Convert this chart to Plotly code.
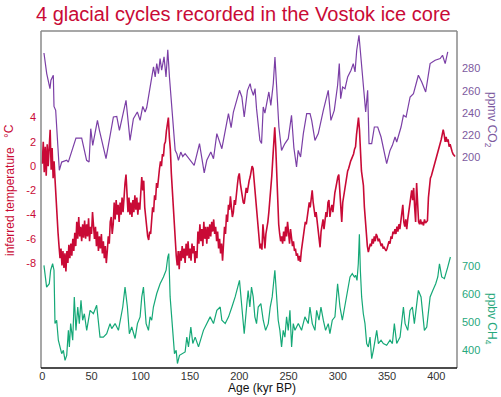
import plotly.graph_objects as go

# ---------------- data ----------------
temp_age = [
    0, 1, 2, 3, 4, 5, 6, 7, 8, 9, 10, 11, 12, 13, 14, 15, 16, 17, 18, 19,
    20, 21, 22, 23, 24, 25, 26, 27, 28, 29, 30, 31, 32, 33, 34, 35, 36, 37, 38, 39,
    40, 41, 42, 43, 44, 45, 46, 47, 48, 49, 50, 51, 52, 53, 54, 55, 56, 57, 58, 59,
    60, 61, 62, 63, 64, 65, 66, 67, 68, 69, 70, 71, 72, 73, 74, 75, 76, 77, 78, 79,
    80, 81, 82, 83, 84, 85, 86, 87, 88, 89, 90, 91, 92, 93, 94, 95, 96, 97, 98, 99,
    100, 101, 102, 103, 104, 105, 106, 107, 108, 109, 110, 111, 112, 113, 114, 115, 116, 117, 118, 119,
    120, 121, 122, 123, 124, 125, 126, 127, 128, 129, 130, 131, 132, 133, 134, 135, 136, 137, 138, 139,
    140, 141, 142, 143, 144, 145, 146, 147, 148, 149, 150, 151, 152, 153, 154, 155, 156, 157, 158, 159,
    160, 161, 162, 163, 164, 165, 166, 167, 168, 169, 170, 171, 172, 173, 174, 175, 176, 177, 178, 179,
    180, 181, 182, 183, 184, 185, 186, 187, 188, 189, 190, 191, 192, 193, 194, 195, 196, 197, 198, 199,
    200, 201, 202, 203, 204, 205, 206, 207, 208, 209, 210, 211, 212, 213, 214, 215, 216, 217, 218, 219,
    220, 221, 222, 223, 224, 225, 226, 227, 228, 229, 230, 231, 232, 233, 234, 235, 236, 237, 238, 239,
    240, 241, 242, 243, 244, 245, 246, 247, 248, 249, 250, 251, 252, 253, 254, 255, 256, 257, 258, 259,
    260, 261, 262, 263, 264, 265, 266, 267, 268, 269, 270, 271, 272, 273, 274, 275, 276, 277, 278, 279,
    280, 281, 282, 283, 284, 285, 286, 287, 288, 289, 290, 291, 292, 293, 294, 295, 296, 297, 298, 299,
    300, 301, 302, 303, 304, 305, 306, 307, 308, 309, 310, 311, 312, 313, 314, 315, 316, 317, 318, 319,
    320, 321, 322, 323, 324, 325, 326, 327, 328, 329, 330, 331, 332, 333, 334, 335, 336, 337, 338, 339,
    340, 341, 342, 343, 344, 345, 346, 347, 348, 349, 350, 351, 352, 353, 354, 355, 356, 357, 358, 359,
    360, 361, 362, 363, 364, 365, 366, 367, 368, 369, 370, 371, 372, 373, 374, 375, 376, 377, 378, 379,
    380, 381, 382, 383, 384, 385, 386, 387, 388, 389, 390, 391, 392, 393, 394, 395, 396, 397, 398, 399,
    400, 401, 402, 403, 404, 405, 406, 407, 408, 409, 410, 411, 412, 413, 414, 415, 416, 417, 418, 419,
]
temp_c = [
    0.2, 2.0, -0.5, 1.6, -0.8, 1.8, 0.0, 1.2, 3.0, -0.3,
    1.5, -1.0, 0.4, -1.2, -3.0, -4.5, -5.5, -6.6, -7.6, -6.8,
    -8.2, -7.0, -8.4, -7.2, -8.7, -7.0, -8.0, -6.5, -7.6, -6.4,
    -7.4, -6.0, -7.0, -5.5, -6.6, -4.6, -6.0, -4.2, -5.8, -5.0,
    -6.2, -4.8, -5.9, -4.5, -6.0, -4.8, -5.8, -4.3, -6.2, -5.0,
    -5.6, -3.8, -5.2, -6.0, -5.0, -6.6, -5.4, -7.0, -5.8, -6.8,
    -5.6, -7.2, -6.2, -7.6, -6.6, -8.0, -7.0, -5.8, -6.4, -4.6,
    -4.2, -5.6, -4.8, -3.0, -4.4, -2.8, -4.0, -3.2, -4.6, -3.0,
    -4.0, -2.6, -3.8, -2.2, -1.4, -0.7, -2.4, -3.8, -2.6, -4.0,
    -3.0, -4.2, -2.8, -3.8, -2.4, -3.6, -2.6, -4.0, -3.0, -3.6,
    -2.2, -0.9, -2.0, -1.2, -3.4, -4.4, -5.2, -5.8, -6.1, -5.4,
    -5.6, -4.6, -3.4, -3.8, -2.4, -2.8, -1.4, -1.8, -0.6, -0.2,
    0.4, 0.0, 1.0, 0.8, 1.8, 2.0, 2.9, 3.6, 4.0, 2.4,
    1.4, -0.6, -2.0, -3.6, -5.2, -6.6, -7.4, -8.2, -7.0, -8.5,
    -7.0, -7.8, -6.6, -7.6, -6.8, -8.0, -6.4, -7.4, -6.2, -7.6,
    -6.8, -7.8, -6.4, -7.2, -6.6, -8.0, -7.0, -7.6, -5.4, -6.4,
    -4.8, -6.2, -5.2, -6.6, -4.6, -6.0, -5.0, -6.4, -5.0, -6.0,
    -4.8, -5.8, -4.6, -5.4, -4.4, -5.6, -5.0, -6.2, -5.4, -6.8,
    -6.0, -7.2, -6.4, -7.8, -6.6, -5.0, -5.6, -4.0, -4.6, -3.2,
    -3.6, -2.5, -3.4, -4.2, -3.8, -2.8, -3.2, -2.0, -1.6, -0.9,
    -0.6, -1.4, -2.0, -2.6, -3.0, -3.1, -2.4, -1.8, -2.2, -1.4,
    -1.2, -0.9, -0.4, 0.0, -0.2, -1.2, -1.8, -3.0, -4.2, -5.2,
    -6.2, -6.8, -6.4, -6.9, -4.8, -5.6, -6.8, -5.6, -5.2, -4.6,
    -3.8, -2.8, -2.2, -0.8, 0.6, 2.2, 3.2, 1.6, -0.8, -3.0,
    -4.8, -5.6, -6.2, -5.8, -6.4, -5.4, -6.2, -5.0, -5.8, -4.6,
    -5.4, -6.4, -5.2, -6.0, -6.6, -6.2, -7.0, -6.8, -7.4, -7.2,
    -7.8, -7.4, -7.9, -7.0, -6.4, -5.8, -5.2, -4.6, -4.8, -4.0,
    -3.6, -3.0, -3.4, -2.6, -2.0, -3.0, -3.6, -4.2, -3.8, -4.6,
    -5.2, -6.0, -6.7, -5.4, -5.0, -4.4, -5.2, -4.6, -3.8, -4.2,
    -3.0, -2.8, -4.2, -3.6, -3.2, -3.8, -2.8, -2.2, -1.8, -1.2,
    -0.9, -0.7, -2.4, -3.2, -4.6, -3.0, -2.4, -2.0, -1.4, -1.0,
    -0.4, -0.2, 0.2, 0.4, 0.6, 0.8, 1.0, 1.4, 1.6, 2.6,
    3.6, 4.0, 3.0, 1.2, -0.4, -1.0, -1.6, -3.4, -4.6, -5.6,
    -6.6, -7.1, -6.8, -6.4, -6.6, -6.0, -6.4, -5.8, -6.2, -5.6,
    -5.8, -6.2, -6.0, -6.4, -6.6, -6.4, -6.8, -6.7, -6.9, -7.0,
    -6.8, -6.5, -6.2, -6.4, -5.8, -6.0, -5.4, -5.6, -5.2, -5.6,
    -5.0, -5.4, -4.8, -5.2, -4.4, -3.8, -3.2, -4.6, -5.0, -4.4,
    -5.2, -4.4, -3.8, -3.2, -2.6, -2.0, -2.8, -1.8, -3.4, -4.6,
    -1.4, -3.2, -4.6, -4.8, -4.4, -4.8, -4.6, -4.9, -4.4, -4.7,
    -4.6, -4.5, -2.6, -1.4, -1.0, -0.8, -0.5, -0.4, 0.0, 0.2,
    0.6, 0.8, 1.2, 1.6, 1.8, 2.2, 2.6, 3.0, 2.6, 2.0,
    2.4, 2.0, 2.2, 1.6, 1.8, 1.4, 1.2, 1.0, 0.9, 0.8,
]

co2_age = [
    1.7, 4.5, 7.8, 8.8, 11.2, 11.9, 13.6, 17.3, 19.7, 24.8, 26.4, 34.2, 40.0, 45.0, 47.5,
    49.2, 51.2, 56.0, 58.0, 64.7, 72.2, 75.6, 78.3, 80.6, 85.0, 89.1, 92.5, 96.5, 99.3,
    102.0, 104.4, 106.0, 111.2, 112.9, 114.6, 116.2, 117.9, 119.6, 121.2, 123.6, 125.6,
    127.4, 129.1, 131.5, 134.9, 136.6, 138.2, 140.6, 142.6, 145.0, 154.2, 159.6, 164.4,
    167.0, 171.1, 173.8, 177.2, 182.3, 185.7, 189.0, 191.7, 194.0, 200.2, 202.6, 205.0,
    208.3, 211.0, 212.0, 214.3, 216.0, 217.5, 220.9, 222.6, 224.3, 226.0, 228.7, 230.0,
    232.0, 234.5, 236.2, 237.9, 240.2, 242.9, 246.3, 249.7, 253.0, 255.4, 258.1, 259.8,
    262.2, 265.0, 268.4, 271.8, 273.5, 276.8, 280.2, 285.3, 290.3, 293.0, 296.4, 299.8,
    301.5, 302.9, 304.9, 307.3, 310.0, 313.4, 315.7, 317.5, 319.2, 321.5, 323.6, 326.0,
    328.3, 330.3, 331.7, 334.4, 337.1, 340.5, 343.9, 349.6, 353.0, 355.4, 358.1, 359.8,
    364.2, 366.6, 369.3, 373.4, 376.8, 381.8, 385.2, 389.2, 393.7, 398.8, 403.9, 406.3,
    409.0, 411.6,
]
co2_ppmv = [
    294, 275.5, 262, 269.5, 274, 246, 242.5, 188.6, 196, 197.6, 196, 217.6, 217.6, 197.6, 196,
    226, 211, 233.5, 224.5, 199, 236.5, 237, 224.5, 235, 251.5, 215.5, 235, 241, 233.5,
    246, 241, 245, 272.5, 281.5, 272.5, 284.5, 275.5, 289, 278.5, 290.5, 272.5,
    297, 272.5, 245.5, 206.5, 203.6, 197.6, 205, 201, 203.6, 193, 212.6, 186.2,
    197.6, 205, 199, 221.6, 208, 224.5, 239.5, 227, 241, 260.5, 254.5, 236.5,
    260.5, 266.5, 262, 256, 262, 244, 215.5, 212.6, 245.5, 240, 253, 259,
    247, 266.5, 290.5, 266.5, 227.5, 206.5, 212.6, 217, 238, 209, 191.6, 206.5,
    200.6, 221.6, 239.5, 239.5, 233.5, 215.5, 221.6, 242.5, 260.5, 233.5, 242.5, 265,
    284.5, 253, 263.5, 262, 272.5, 278.5, 284.5, 277, 296.5, 310, 287.5, 257.5,
    241, 260.5, 212.6, 212.6, 227.5, 227.5, 218.5, 194.6, 206.5, 211, 218.5, 214,
    227.5, 238, 236.5, 254.5, 257.5, 274, 268, 259, 284.5, 287.5, 289, 292,
    284.5, 295,
]

ch4_age = [
    1.7, 4.4, 7.1, 8.5, 10.5, 11.9, 12.9, 14.6, 16.3, 18.0, 19.7, 21.4, 23.1, 24.8, 26.5,
    27.5, 28.8, 30.9, 32.5, 34.2, 36.0, 37.6, 39.3, 41.0, 42.7, 45.1, 48.5, 51.9, 55.2,
    58.6, 62.0, 65.4, 68.8, 70.5, 73.9, 77.3, 79.0, 81.7, 84.0, 86.4, 88.4, 90.8, 94.2,
    96.6, 99.3, 101.0, 102.7, 105.4, 107.8, 109.4, 111.1, 112.8, 116.2, 119.6, 123.0,
    125.7, 127.4, 128.4, 129.8, 131.5, 133.2, 134.2, 135.9, 137.2, 139.3, 141.6, 145.0,
    146.7, 148.4, 150.8, 152.8, 155.2, 158.6, 163.6, 167.0, 170.4, 173.8, 177.2, 180.6,
    182.3, 185.7, 189.1, 192.5, 195.8, 200.2, 202.6, 205.0, 207.7, 209.0, 210.7, 212.4,
    214.1, 215.8, 217.5, 219.2, 221.9, 224.3, 226.7, 229.4, 231.4, 233.4, 236.1, 237.8,
    239.5, 241.2, 242.9, 244.6, 246.3, 248.0, 249.7, 251.4, 253.1, 254.8, 256.5, 259.9,
    263.2, 266.6, 270.0, 271.7, 274.1, 276.8, 278.5, 280.9, 282.9, 285.3, 287.6, 290.3,
    292.0, 294.4, 297.1, 299.8, 302.2, 304.6, 307.3, 310.0, 312.4, 314.7, 316.8, 318.1,
    319.5, 320.8, 321.9, 322.9, 324.2, 325.9, 327.6, 329.3, 331.0, 332.7, 334.4, 336.1,
    337.8, 339.5, 341.2, 343.9, 346.2, 349.6, 353.0, 355.4, 357.4, 359.8, 363.2, 366.6,
    368.3, 371.0, 373.3, 375.7, 377.7, 380.1, 381.8, 384.5, 387.9, 390.3, 393.7, 396.4,
    399.4, 401.5, 403.2, 405.5, 408.2, 411.6, 414.3,
]
ch4_ppbv = [
    702, 625, 637, 685, 708, 685, 495, 507, 436, 412, 388, 400, 364, 382, 471,
    412, 495, 436, 590, 471, 554, 495, 578, 507, 530, 471, 542, 530, 560,
    447, 447, 459, 495, 477, 495, 471, 507, 554, 625, 554, 459, 483, 442,
    495, 519, 590, 625, 495, 471, 519, 507, 554, 602, 637, 661,
    685, 732, 744, 590, 507, 424, 388, 400, 353, 382, 388, 394,
    447, 412, 483, 424, 447, 412, 471, 495, 519, 495, 542, 554,
    507, 495, 519, 554, 590, 649, 554, 459, 566, 613, 554, 625,
    590, 519, 495, 554, 566, 507, 471, 495, 554, 590, 685, 590,
    507, 471, 412, 471, 447, 519, 471, 542, 412, 495, 471, 495,
    471, 519, 495, 554, 495, 471, 542, 507, 554, 507, 471, 495,
    459, 507, 519, 637, 554, 507, 566, 613, 661, 673, 661, 667,
    649, 708, 813, 685, 590, 530, 495, 424, 412, 447, 370, 400,
    436, 471, 424, 436, 424, 418, 436, 424, 495, 424, 447, 554,
    495, 471, 542, 554, 495, 566, 613, 590, 471, 483, 590, 613,
    637, 661, 708, 661, 655, 696, 732,
]

x_ticks = [0, 50, 100, 150, 200, 250, 300, 350, 400]
temp_ticks = [-8, -6, -4, -2, 0, 2, 4]
temp_tick_text = ["-8", "-6", "-4", "-2", "0", "2", "4"]
co2_ticks = [200, 220, 240, 260, 280]
ch4_ticks = [400, 500, 600, 700]

# ---------------- style ----------------
RED = "#c90a36"
PURPLE = "#7b3fa6"
GREEN = "#15a877"
CO2_TXT = "#7d5aa0"
CH4_TXT = "#27a87c"
FONT = "Liberation Sans, Arial, Helvetica, sans-serif"

W, H = 501, 397
L, R, T, B = 41, 457, 31, 368  # plot area in pixels


def px(xp):
    return (xp - L) / (R - L)


def py(yp):
    return (B - yp) / (B - T)


fig = go.Figure()
fig.add_trace(go.Scatter(x=co2_age, y=co2_ppmv, yaxis="y2", mode="lines",
                         line=dict(color=PURPLE, width=1.2), showlegend=False))
fig.add_trace(go.Scatter(x=temp_age, y=temp_c, yaxis="y", mode="lines",
                         line=dict(color=RED, width=1.6), showlegend=False))
fig.add_trace(go.Scatter(x=ch4_age, y=ch4_ppbv, yaxis="y3", mode="lines",
                         line=dict(color=GREEN, width=1.2), showlegend=False))

axis_common = dict(showgrid=False, zeroline=False, showline=False, ticks="")

fig.update_layout(
    width=W, height=H,
    margin=dict(l=L, r=W - R, t=T, b=H - B, pad=0),
    paper_bgcolor="white", plot_bgcolor="white",
    font=dict(family=FONT, size=11),
    xaxis=dict(range=[-1.3, 421], tickvals=x_ticks,
               tickfont=dict(size=11, color="#333333"), **axis_common),
    yaxis=dict(range=[-16.66, 11.15], tickvals=temp_ticks, ticktext=temp_tick_text,
               tickfont=dict(size=11, color=RED), ticklabelstandoff=4, **axis_common),
    yaxis2=dict(range=[10.9, 313.8], tickvals=co2_ticks, overlaying="y", side="right",
                tickfont=dict(size=11, color=CO2_TXT), ticklabelstandoff=4, **axis_common),
    yaxis3=dict(range=[337, 1536.3], tickvals=ch4_ticks, overlaying="y", side="right",
                tickfont=dict(size=11, color=CH4_TXT), ticklabelstandoff=4, **axis_common),
    shapes=[
        dict(type="line", xref="paper", yref="paper", x0=0, x1=1, y0=1, y1=1,
             line=dict(color="#8a8a8a", width=1.5)),
        dict(type="line", xref="paper", yref="paper", x0=0, x1=0, y0=0, y1=1,
             line=dict(color="#8a8a8a", width=1.5)),
        dict(type="line", xref="paper", yref="paper", x0=1, x1=1, y0=0, y1=1,
             line=dict(color="#8a8a8a", width=1.5)),
        dict(type="line", xref="paper", yref="paper", x0=0, x1=1, y0=0, y1=0,
             line=dict(color="#111111", width=1.5)),
    ],
    annotations=[
        dict(text="4 glacial cycles recorded in the Vostok ice core", x=px(243.5), y=py(14),
             xref="paper", yref="paper", showarrow=False, xanchor="center", yanchor="middle",
             font=dict(size=20, color=RED, family=FONT)),
        dict(text="Age (kyr BP)", x=px(262), y=py(388), xref="paper", yref="paper",
             showarrow=False, xanchor="center", yanchor="middle",
             font=dict(size=12, color="#111111", family=FONT)),
        dict(text="inferred temperature", x=px(10), y=py(202), xref="paper", yref="paper",
             showarrow=False, xanchor="center", yanchor="middle", textangle=-90,
             font=dict(size=12, color=RED, family=FONT)),
        dict(text="°C", x=px(9), y=py(131), xref="paper", yref="paper",
             showarrow=False, xanchor="center", yanchor="middle", textangle=-90,
             font=dict(size=12, color=RED, family=FONT)),
        dict(text="ppmv CO<sub>2</sub>", x=px(491), y=py(120), xref="paper", yref="paper",
             showarrow=False, xanchor="center", yanchor="middle", textangle=90,
             font=dict(size=12, color=CO2_TXT, family=FONT)),
        dict(text="ppbv CH<sub>4</sub>", x=px(491), y=py(319), xref="paper", yref="paper",
             showarrow=False, xanchor="center", yanchor="middle", textangle=90,
             font=dict(size=12, color=CH4_TXT, family=FONT)),
    ],
)

fig.write_html(
    "out.html",
    config={"displayModeBar": False},
    post_script="document.body.style.margin='0';document.body.style.overflow='hidden';",
)
